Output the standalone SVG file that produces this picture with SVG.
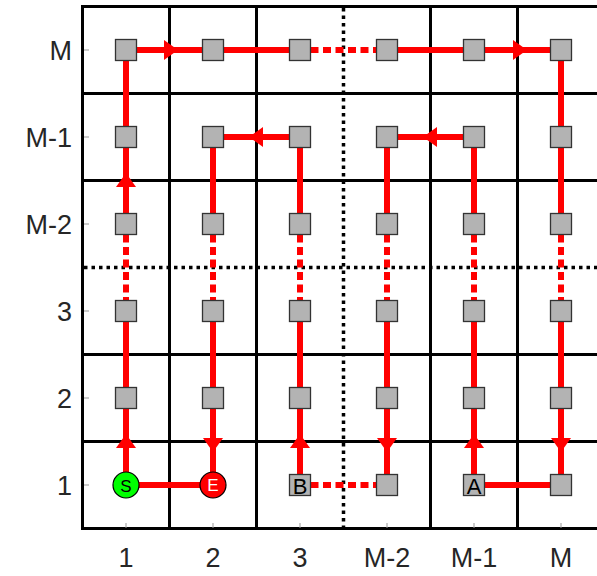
<svg xmlns="http://www.w3.org/2000/svg" xmlns:xlink="http://www.w3.org/1999/xlink" width="597" height="576" viewBox="0 0 597 576">
<style>
.grid{stroke:#000;stroke-width:3;fill:none}
.dot{stroke:#000;stroke-width:3.5;stroke-dasharray:3.5 4;fill:none}
.tick{stroke:#999;stroke-width:1}
.path{stroke:#ff0000;stroke-width:6;fill:none}
.dash{stroke:#ff0000;stroke-width:6;fill:none;stroke-dasharray:8 4.5}
.arrow{fill:#ff0000;stroke:none}
.node use{fill:#b3b3b3;stroke:#333;stroke-width:1.3}
.lbl{font-family:"Liberation Sans",Arial,sans-serif;font-size:27px;fill:#262626}
.ntxt{font-family:"Liberation Sans",Arial,sans-serif;text-anchor:middle}
</style>
<defs>
<rect id="sq" x="-10.5" y="-10.5" width="21" height="21"/>
</defs>
<rect x="0" y="0" width="597" height="576" fill="#fff"/>
<g id="grid">
<path class="grid" d="M600,6.5 H82.5 V528.5 H600" stroke-linecap="square"/>
<path class="grid" d="M169.5,6.5 V528.5 M256.5,6.5 V528.5 M430.5,6.5 V528.5 M517.5,6.5 V528.5"/>
<path class="grid" d="M82.5,93.5 H600 M82.5,180.5 H600 M82.5,354.5 H600 M82.5,441.5 H600"/>
<path class="dot" d="M343.5,8 V528"/>
<path class="dot" d="M84,267.5 H597"/>
<path class="tick" d="M126,528 V523 M213,528 V523 M300,528 V523 M387,528 V523 M474,528 V523 M561,528 V523"/>
<path class="tick" d="M84,50 H89 M84,137 H89 M84,224 H89 M84,311 H89 M84,398 H89 M84,485 H89"/>
</g>
<g id="axis-labels" class="lbl">
<g text-anchor="end">
<text x="72" y="60">M</text>
<text x="72" y="147">M-1</text>
<text x="72" y="234">M-2</text>
<text x="72" y="321">3</text>
<text x="72" y="408">2</text>
<text x="72" y="495">1</text>
</g>
<g text-anchor="middle">
<text x="126" y="566.5">1</text>
<text x="213" y="566.5">2</text>
<text x="300" y="566.5">3</text>
<text x="387" y="566.5">M-2</text>
<text x="474" y="566.5">M-1</text>
<text x="561" y="566.5">M</text>
</g>
</g>
<g id="connectors">
<path class="path" d="M126,485 V311 M126,224 V50 H300 M387,50 H561 V224 M561,311 V485 H474 V311 M474,224 V137 H387 V224 M387,311 V485"/>
<path class="path" d="M300,485 V311 M300,224 V137 H213 V224 M213,311 V485 H126"/>
<path class="dash" d="M126,234.5 V300.5 M213,234.5 V300.5 M300,234.5 V300.5 M387,234.5 V300.5 M474,234.5 V300.5 M561,234.5 V300.5"/>
<path class="dash" d="M310.5,50 H376.5 M310.5,485 H376.5"/>
<g class="arrow">
<polygon points="178,50 164,40 164,60"/>
<polygon points="527,50 513,40 513,60"/>
<polygon points="249,137 263,127 263,147"/>
<polygon points="423,137 437,127 437,147"/>
<polygon points="126,173 116,187 136,187"/>
<polygon points="126,434 116,448 136,448"/>
<polygon points="300,434 290,448 310,448"/>
<polygon points="474,434 464,448 484,448"/>
<polygon points="213,452 203,438 223,438"/>
<polygon points="387,452 377,438 397,438"/>
<polygon points="561,452 551,438 571,438"/>
</g>
</g>
<g id="nodes">
<g id="n-1-M" class="node"><use xlink:href="#sq" x="126" y="50"/></g>
<g id="n-2-M" class="node"><use xlink:href="#sq" x="213" y="50"/></g>
<g id="n-3-M" class="node"><use xlink:href="#sq" x="300" y="50"/></g>
<g id="n-M2-M" class="node"><use xlink:href="#sq" x="387" y="50"/></g>
<g id="n-M1-M" class="node"><use xlink:href="#sq" x="474" y="50"/></g>
<g id="n-M-M" class="node"><use xlink:href="#sq" x="561" y="50"/></g>
<g id="n-1-M1" class="node"><use xlink:href="#sq" x="126" y="137"/></g>
<g id="n-2-M1" class="node"><use xlink:href="#sq" x="213" y="137"/></g>
<g id="n-3-M1" class="node"><use xlink:href="#sq" x="300" y="137"/></g>
<g id="n-M2-M1" class="node"><use xlink:href="#sq" x="387" y="137"/></g>
<g id="n-M1-M1" class="node"><use xlink:href="#sq" x="474" y="137"/></g>
<g id="n-M-M1" class="node"><use xlink:href="#sq" x="561" y="137"/></g>
<g id="n-1-M2" class="node"><use xlink:href="#sq" x="126" y="224"/></g>
<g id="n-2-M2" class="node"><use xlink:href="#sq" x="213" y="224"/></g>
<g id="n-3-M2" class="node"><use xlink:href="#sq" x="300" y="224"/></g>
<g id="n-M2-M2" class="node"><use xlink:href="#sq" x="387" y="224"/></g>
<g id="n-M1-M2" class="node"><use xlink:href="#sq" x="474" y="224"/></g>
<g id="n-M-M2" class="node"><use xlink:href="#sq" x="561" y="224"/></g>
<g id="n-1-3" class="node"><use xlink:href="#sq" x="126" y="311"/></g>
<g id="n-2-3" class="node"><use xlink:href="#sq" x="213" y="311"/></g>
<g id="n-3-3" class="node"><use xlink:href="#sq" x="300" y="311"/></g>
<g id="n-M2-3" class="node"><use xlink:href="#sq" x="387" y="311"/></g>
<g id="n-M1-3" class="node"><use xlink:href="#sq" x="474" y="311"/></g>
<g id="n-M-3" class="node"><use xlink:href="#sq" x="561" y="311"/></g>
<g id="n-1-2" class="node"><use xlink:href="#sq" x="126" y="398"/></g>
<g id="n-2-2" class="node"><use xlink:href="#sq" x="213" y="398"/></g>
<g id="n-3-2" class="node"><use xlink:href="#sq" x="300" y="398"/></g>
<g id="n-M2-2" class="node"><use xlink:href="#sq" x="387" y="398"/></g>
<g id="n-M1-2" class="node"><use xlink:href="#sq" x="474" y="398"/></g>
<g id="n-M-2" class="node"><use xlink:href="#sq" x="561" y="398"/></g>
<g id="n-S" class="node"><circle cx="126" cy="485" r="13" fill="#00ff00" stroke="#000" stroke-width="1.2"/><text class="ntxt" x="126" y="491.5" font-size="17" fill="#000">S</text></g>
<g id="n-E" class="node"><circle cx="213" cy="485" r="13" fill="#ff0000" stroke="#000" stroke-width="1.2"/><text class="ntxt" x="213" y="491.2" font-size="17" fill="#fff">E</text></g>
<g id="n-B" class="node"><use xlink:href="#sq" x="300" y="485"/><text class="ntxt" x="300" y="493.5" font-size="22" fill="#000">B</text></g>
<g id="n-M2-1" class="node"><use xlink:href="#sq" x="387" y="485"/></g>
<g id="n-A" class="node"><use xlink:href="#sq" x="474" y="485"/><text class="ntxt" x="474" y="493.5" font-size="22" fill="#000">A</text></g>
<g id="n-M-1" class="node"><use xlink:href="#sq" x="561" y="485"/></g>
</g>
</svg>
